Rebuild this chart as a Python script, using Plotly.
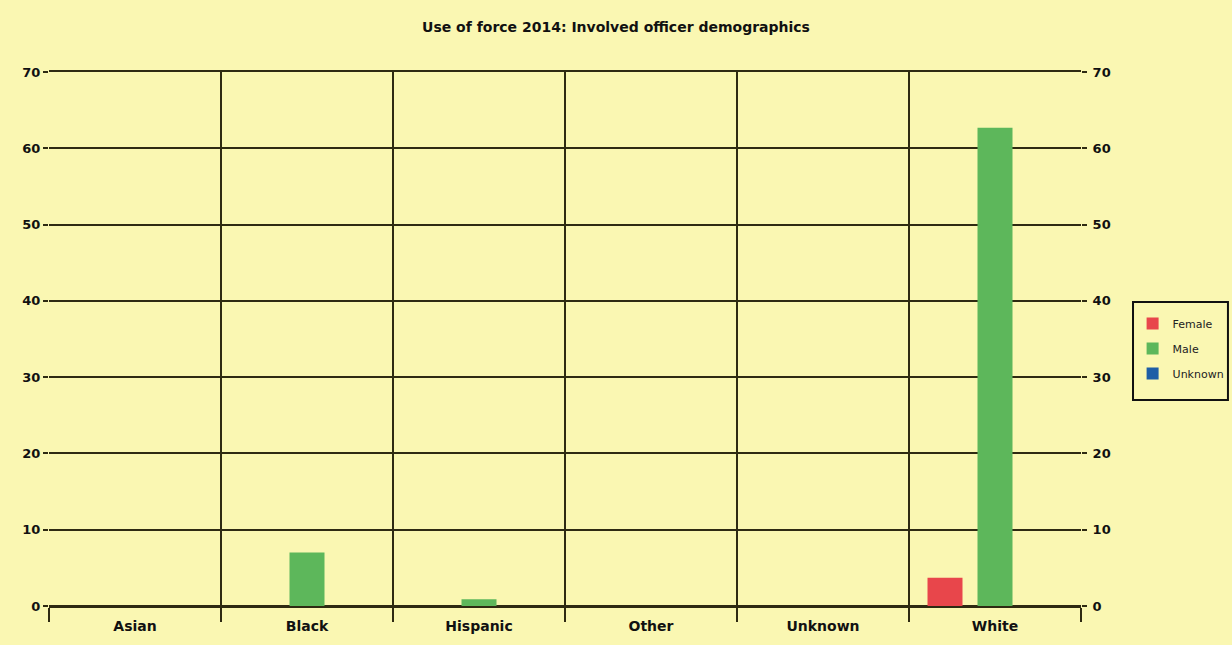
import plotly.graph_objects as go

# officer race categories and counts by gender
categories = ["Asian", "Black", "Hispanic", "Other", "Unknown", "White"]
female = [0, 0, 0, 0, 0, 3.7]
male = [0, 7, 0.9, 0, 0, 62.7]
unknown = [0, 0, 0, 0, 0, 0]
y_ticks = [0, 10, 20, 30, 40, 50, 60, 70]

bg = "#FAF7B2"
ink = "#2E2A12"
font_family = "DejaVu Sans, Verdana, sans-serif"
tick_font = dict(size=13, family=font_family, color="#111", weight="bold")

fig = go.Figure()
for name, vals, color in [
    ("Female", female, "#E8464B"),
    ("Male", male, "#5DB75B"),
    ("Unknown", unknown, "#1E5EA6"),
]:
    fig.add_trace(go.Bar(
        x=categories, y=vals, name=name, legendgroup=name,
        marker=dict(color=color, line=dict(width=0)),
    ))

# invisible trace so the right-hand axis gets drawn
fig.add_trace(go.Scatter(
    x=categories, y=male, yaxis="y2", mode="markers",
    marker=dict(opacity=0), showlegend=False, hoverinfo="skip",
))

# legend frame
fig.add_shape(
    type="rect", xref="paper", yref="paper",
    x0=1.0504, x1=1.1424, y0=0.3858, y1=0.5693,
    line=dict(color="#111", width=2),
)

fig.update_layout(
    width=1232, height=645,
    margin=dict(l=49, r=151, t=72, b=39, autoexpand=False),
    paper_bgcolor=bg, plot_bgcolor=bg,
    barmode="group", bargap=0.128, bargroupgap=0.3,
    title=dict(
        text="Use of force 2014: Involved officer demographics",
        x=0.5, xanchor="center", y=0.958, yanchor="middle",
        font=dict(family=font_family, size=14, color="#111", weight="bold"),
    ),
    font=dict(family=font_family, color="#111"),
    legend=dict(
        x=1.05, xanchor="left", y=0.556, yanchor="top",
        bgcolor="rgba(0,0,0,0)", borderwidth=0,
        font=dict(size=11, color="#222"),
        tracegroupgap=6, itemwidth=30,
    ),
    xaxis=dict(
        type="category", tickson="boundaries", ticks="outside",
        ticklen=14, tickwidth=1.5, tickcolor=ink,
        showgrid=True, gridcolor=ink, gridwidth=1.5,
        showline=True, linecolor=ink, linewidth=1.5, mirror=True,
        tickfont=dict(size=14, family=font_family, color="#111", weight="bold"),
        ticklabelstandoff=6,
    ),
    yaxis=dict(
        range=[0, 70], tickvals=y_ticks,
        ticks="outside", ticklen=5, tickwidth=1.5, tickcolor=ink,
        showgrid=True, gridcolor=ink, gridwidth=1.5,
        zeroline=True, zerolinecolor=ink, zerolinewidth=1.5,
        tickfont=tick_font,
    ),
    yaxis2=dict(
        range=[0, 70], tickvals=y_ticks, overlaying="y", side="right",
        ticks="outside", ticklen=5, tickwidth=1.5, tickcolor=ink,
        showgrid=False, zeroline=False,
        tickfont=tick_font, ticklabelstandoff=3,
    ),
)

fig.write_html(
    "out.html",
    config={"displayModeBar": False},
    post_script="document.body.style.margin='0';",
)
